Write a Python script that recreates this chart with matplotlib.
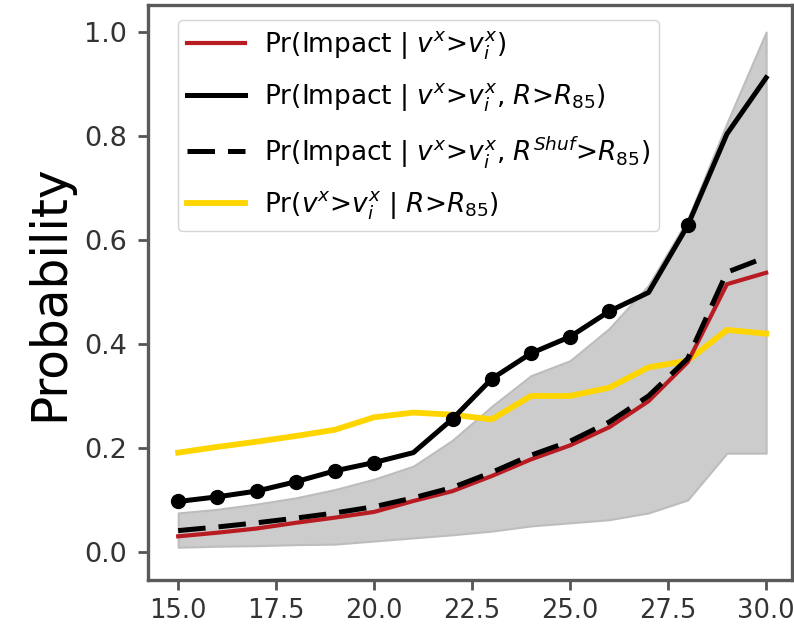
import matplotlib
matplotlib.use("Agg")
import matplotlib.pyplot as plt
import numpy as np

x = [15, 16, 17, 18, 19, 20, 21, 22, 23, 24, 25, 26, 27, 28, 29, 30]
p_impact = [0.030, 0.037, 0.045, 0.056, 0.066, 0.077, 0.098, 0.117, 0.146, 0.178, 0.205, 0.240, 0.290, 0.365, 0.515, 0.537]
p_impact_r85 = [0.097, 0.106, 0.117, 0.135, 0.156, 0.172, 0.191, 0.256, 0.333, 0.382, 0.414, 0.463, 0.499, 0.628, 0.804, 0.912]
p_impact_shuf = [0.041, 0.048, 0.056, 0.065, 0.075, 0.087, 0.104, 0.124, 0.153, 0.186, 0.213, 0.250, 0.300, 0.372, 0.538, 0.567]
p_v_r85 = [0.191, 0.202, 0.212, 0.223, 0.235, 0.259, 0.268, 0.264, 0.255, 0.300, 0.300, 0.316, 0.355, 0.368, 0.427, 0.420]
band_low = [0.009, 0.011, 0.012, 0.014, 0.015, 0.021, 0.027, 0.033, 0.040, 0.050, 0.056, 0.062, 0.075, 0.100, 0.190, 0.190]
band_high = [0.075, 0.082, 0.092, 0.104, 0.120, 0.140, 0.165, 0.215, 0.280, 0.339, 0.368, 0.430, 0.513, 0.640, 0.825, 1.000]
marker_x = [15, 16, 17, 18, 19, 20, 22, 23, 24, 25, 26, 28]

labels = [r'Pr(Impact | $v^x$>$v^x_i$)',
          r'Pr(Impact | $v^x$>$v^x_i$, $R$>$R_{85}$)',
          r'Pr(Impact | $v^x$>$v^x_i$, $R^{Shuf}$>$R_{85}$)',
          r'Pr($v^x$>$v^x_i$ | $R$>$R_{85}$)']
xticks = [15.0, 17.5, 20.0, 22.5, 25.0, 27.5, 30.0]
yticks = [0.0, 0.2, 0.4, 0.6, 0.8, 1.0]

W, H = 794, 627
fig = plt.figure(figsize=(W / 100, H / 100), dpi=100)
ax = fig.add_axes([148 / W, (H - 580) / H, (792 - 148) / W, (580 - 5) / H])

ax.fill_between(x, band_low, band_high, facecolor='#cccccc', edgecolor='#bdbdbd', lw=1.5, zorder=1)
l1, = ax.plot(x, p_impact, color='#b81c22', lw=3.0, zorder=3, label=labels[0])
l2, = ax.plot(x, p_impact_r85, color='black', lw=3.6, zorder=5, label=labels[1])
mk_idx = [x.index(v) for v in marker_x]
ax.plot(x, p_impact_r85, ls='none', marker='o', ms=10, color='black', markevery=mk_idx, zorder=5)
l3, = ax.plot(x, p_impact_shuf, color='black', lw=3.6, ls=(0, (5.5, 2.6)), zorder=4, label=labels[2])
l4, = ax.plot(x, p_v_r85, color='#ffd500', lw=4.2, zorder=2, label=labels[3])

ax.set_xlim(14.23, 30.66)
ax.set_ylim(-0.054, 1.052)
ax.set_xticks(xticks)
ax.set_xticklabels([f'{v:.1f}' for v in xticks])
ax.set_yticks(yticks)
ax.set_yticklabels([f'{v:.1f}' for v in yticks])
ax.tick_params(labelsize=19.5, colors='#555555', labelcolor='#333333', length=7, width=2)
ax.tick_params(axis='x', pad=6, labelsize=18.5)
ax.tick_params(axis='y', pad=8)
for s in ax.spines.values():
    s.set_color('#5a5a5a')
    s.set_linewidth(2.4)
ax.set_ylabel('Probability', fontsize=35, color='black', labelpad=8)

leg = ax.legend(handles=[l1, l2, l3, l4], loc='upper left',
                bbox_to_anchor=((178 - 148) / 644, 1 - (20 - 5) / 575),
                borderaxespad=0, fontsize=19, handlelength=2.2, labelspacing=0.75,
                handletextpad=0.7, borderpad=0.35,
                frameon=True, fancybox=True, edgecolor='#d5d5d5', framealpha=1)

fig.savefig('out.png', dpi=100)
